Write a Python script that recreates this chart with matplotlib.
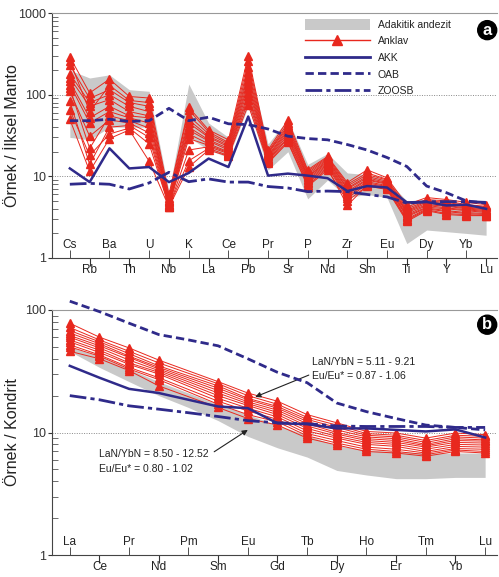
import matplotlib
matplotlib.use("Agg")
import matplotlib.pyplot as plt
import numpy as np
from matplotlib.ticker import FixedLocator, FuncFormatter, NullFormatter, LogLocator
from matplotlib.patches import Patch
from matplotlib.lines import Line2D

plt.rcParams['font.family'] = ['Liberation Sans', 'DejaVu Sans']

# ---------- panel a: primitive mantle normalised ----------
pm_elements = ['Cs', 'Rb', 'Ba', 'Th', 'U', 'Nb', 'K', 'La', 'Ce', 'Pb', 'Pr',
               'Sr', 'P', 'Nd', 'Zr', 'Sm', 'Eu', 'Ti', 'Dy', 'Y', 'Yb', 'Lu']

pm_band_upper = [200, 160, 175, 115, 110, 6.5, 135, 45, 30, 250, 25,
                 50, 14, 19, 11, 10.5, 9, 5, 5.2, 5, 4.5, 4.2]
pm_band_lower = [30, 28, 40, 40, 40, 4.5, 30, 21, 17, 72, 12,
                 20, 5.3, 9, 5.5, 6, 5.5, 1.5, 2.2, 2.1, 2.0, 1.9]

pm_anklav = [
    [290, 105, 155, 95, 91, 6.0, 70, 37, 28, 300, 21, 49, 12, 17.5, 8.4, 12, 9.6, 4.5, 5.5, 5.2, 4.8, 4.5],
    [260, 62, 130, 85, 80, 5.5, 65, 35, 26, 260, 20, 45, 11.5, 17, 8.0, 11, 9.2, 4.2, 5.2, 5.0, 4.5, 4.3],
    [230, 90, 115, 80, 72, 5.2, 55, 33, 25, 220, 19.5, 42, 11, 16.5, 7.6, 10.5, 9.0, 4.0, 5.0, 4.8, 4.4, 4.2],
    [180, 80, 100, 72, 62, 5.0, 49, 31, 24, 190, 19, 40, 10.5, 16, 7.2, 10, 8.7, 3.8, 4.9, 4.6, 4.2, 4.0],
    [160, 72, 87, 62, 55, 4.8, 45, 30, 23, 170, 18, 38, 10, 15.5, 7.0, 9.6, 8.4, 3.7, 4.7, 4.4, 4.1, 3.9],
    [145, 52, 72, 55, 52, 4.6, 40, 28, 22, 150, 17.5, 36, 9.8, 15, 6.6, 9.2, 8.2, 3.6, 4.5, 4.3, 4.0, 3.8],
    [133, 45, 62, 52, 45, 4.5, 37, 27, 21, 135, 17, 34, 9.4, 14.5, 6.3, 9.0, 8.0, 3.4, 4.4, 4.1, 3.9, 3.7],
    [120, 22, 55, 48, 39, 4.4, 33, 25, 20, 120, 16.5, 32, 9.0, 14, 6.0, 8.6, 7.7, 3.3, 4.2, 4.0, 3.8, 3.6],
    [110, 31, 49, 45, 34, 4.3, 29, 24, 19.5, 105, 16, 30, 8.6, 13.5, 5.7, 8.3, 7.5, 3.2, 4.1, 3.8, 3.6, 3.5],
    [83, 14, 40, 42, 30, 4.2, 21, 23, 19, 95, 15.5, 29, 8.2, 13, 5.4, 8.0, 7.3, 3.0, 4.0, 3.7, 3.5, 3.4],
    [65, 18, 33, 39, 25, 4.3, 15.5, 22, 18, 85, 15, 27, 7.8, 12.5, 4.4, 7.8, 7.1, 2.9, 3.9, 3.5, 3.4, 3.3],
    [50, 11.5, 29, 37, 15.3, 4.2, 13, 21, 17.6, 75, 14.5, 26, 7.5, 12, 5.0, 7.6, 6.9, 2.8, 3.8, 3.4, 3.3, 3.3],
]

pm_akk = [12.5, 8.5, 22, 12.5, 13, 8.5, 11, 16.5, 13, 54, 10.2, 10.8, 10.2, 9.5,
          6.6, 7.6, 7.3, 4.8, 4.85, 4.4, 4.5, 4.0]
pm_oab = [48, 48, 50, 47, 48, 68, 48, 53, 44, 43, 38, 31, 29, 28,
          24.5, 21, 17, 13.2, 7.6, 6.3, 5.0, 4.7]
pm_zoosb = [8.0, 8.2, 8.0, 7.0, 8.3, 11.2, 8.6, 9.3, 8.5, 8.5, 7.5, 7.2, 6.5, 6.6,
            6.5, 6.0, 5.6, 4.7, 4.9, 4.9, 4.9, 4.8]

# ---------- panel b: chondrite normalised ----------
ree_elements = ['La', 'Ce', 'Pr', 'Nd', 'Pm', 'Sm', 'Eu', 'Gd', 'Tb', 'Dy',
                'Ho', 'Er', 'Tm', 'Yb', 'Lu']
ree_measured = ['La', 'Ce', 'Pr', 'Nd', 'Sm', 'Eu', 'Gd', 'Tb', 'Dy',
                'Ho', 'Er', 'Tm', 'Yb', 'Lu']

ree_band_upper = [50, 42, 33, 26, 21, 17, 14, 11.5, 9.5, 7.8, 7.2, 7.0, 6.8, 6.8, 6.8]
ree_band_lower = [46, 34, 26, 20, 16, 12.5, 9.3, 7.5, 6.3, 4.9, 4.5, 4.2, 4.2, 4.3, 4.3]

ree_anklav = [
    [78, 60, 49, 39, 26, 21, 18, 14, 12, 10.2, 9.9, 9.0, 9.9, 9.6],
    [72, 57, 46, 37, 25, 20, 17, 13.3, 11.5, 9.8, 9.5, 8.6, 9.5, 9.3],
    [68, 55, 44, 35, 24, 19, 16.3, 12.8, 11, 9.5, 9.2, 8.3, 9.2, 9.0],
    [65, 53, 42, 34, 23, 18.5, 15.8, 12.3, 10.5, 9.2, 8.9, 8.0, 8.9, 8.7],
    [62, 51, 41, 33, 22, 17.8, 15.2, 11.8, 10, 8.9, 8.6, 7.8, 8.6, 8.5],
    [60, 49, 39, 32, 21, 17.2, 14.6, 11.3, 9.7, 8.6, 8.3, 7.6, 8.3, 8.2],
    [57, 47, 37, 31, 20, 16.6, 14, 10.8, 9.3, 8.3, 8.0, 7.3, 8.0, 7.9],
    [55, 45, 36, 30, 19, 15.8, 13.4, 10.3, 9.0, 8.0, 7.7, 7.0, 7.7, 7.6],
    [52, 43, 34, 28, 18, 15, 12.8, 9.8, 8.6, 7.6, 7.3, 6.8, 7.4, 7.3],
    [50, 42, 33, 27, 17, 14, 12.2, 9.4, 8.2, 7.3, 7.0, 6.6, 7.2, 7.0],
    [46, 40, 32, 24, 16, 13, 11.5, 9.0, 7.9, 7.0, 6.8, 6.4, 7.0, 6.8],
]

ree_akk = [35, 28, 22.7, 21, 18.5, 16.3, 15.8, 11.9, 11.7, 10.8, 10.8, 10.5, 10.2, 10.6, 9.1]
ree_oab = [118, 97, 78, 63, 57, 51, 40, 31, 25.5, 17.4, 14.8, 13, 11.5, 11, 10.5]
ree_zoosb = [20, 18.5, 16.5, 15.5, 14.5, 13.5, 12.5, 12, 11.8, 11.3, 11.2, 11.2, 11.2, 11, 11]

red = '#e8281e'
blue = '#2f2a8a'
grey = '#c9c9c9'


def style_axis(ax, labels, ymax, ylabel):
    n = len(labels)
    x = np.arange(n)
    ax.set_yscale('log')
    ax.set_ylim(1, ymax)
    ax.set_xlim(-0.9 if n > 20 else -0.6, n - 1 + (0.55 if n > 20 else 0.4))
    ax.yaxis.set_major_locator(FixedLocator([v for v in [1, 10, 100, 1000] if v <= ymax]))
    ax.yaxis.set_major_formatter(FuncFormatter(lambda v, p: '%g' % v))
    ax.yaxis.set_minor_locator(LogLocator(base=10, subs=np.arange(2, 10)))
    ax.yaxis.set_minor_formatter(NullFormatter())
    ax.tick_params(axis='y', which='major', direction='out', length=3, pad=1,
                   labelsize=9, colors='#333')
    ax.tick_params(axis='y', which='minor', direction='in', length=4, colors='#555')
    ax.set_xticks(x[1::2])
    ax.set_xticklabels([])
    ax.set_xticks(x[0::2], minor=True)
    ax.tick_params(axis='x', which='major', direction='out', length=6, colors='#333')
    ax.tick_params(axis='x', which='minor', direction='in', length=6, colors='#333')
    trans = ax.get_xaxis_transform()
    for i, lab in enumerate(labels):
        if i % 2 == 0:
            ax.text(i, 0.053, lab, transform=trans, ha='center', va='center', fontsize=8.5, color='#222')
        else:
            ax.text(i, -0.05, lab, transform=trans, ha='center', va='center', fontsize=8.5, color='#222')
    for v in [10, 100]:
        if v < ymax:
            ax.axhline(v, color='#888', lw=0.7, ls=(0, (1, 1.5)), zorder=0)
    ax.spines['right'].set_visible(False)
    ax.spines['top'].set_color('#999')
    ax.spines['left'].set_color('#444')
    ax.spines['bottom'].set_color('#444')
    ax.set_ylabel(ylabel, fontsize=11.5, color='#222')
    ax.yaxis.set_label_coords(-0.073, 0.5)


fig = plt.figure(figsize=(4.99, 5.77), dpi=100)
ax1 = fig.add_axes([52 / 499, 1 - 258 / 577, 445 / 499, 245 / 577])
ax2 = fig.add_axes([52 / 499, 1 - 555 / 577, 445 / 499, 245 / 577])

# panel a
xa = np.arange(len(pm_elements))
ax1.fill_between(xa, pm_band_lower, pm_band_upper, color=grey, lw=0, zorder=1)
for s in pm_anklav:
    ax1.plot(xa, s, color=red, lw=0.7, marker='^', ms=5.5, mec=red, zorder=3)
ax1.plot(xa, pm_oab, color=blue, lw=2, ls=(0, (3, 1.5)), zorder=4)
ax1.plot(xa, pm_zoosb, color=blue, lw=2, ls=(0, (6, 1.5, 1.5, 1.5)), zorder=4)
ax1.plot(xa, pm_akk, color=blue, lw=1.8, zorder=5)
style_axis(ax1, pm_elements, 1000, 'Örnek / İlksel Manto')

handles = [Patch(facecolor=grey, edgecolor='none'),
           Line2D([], [], color=red, lw=1, marker='^', ms=7),
           Line2D([], [], color=blue, lw=2),
           Line2D([], [], color=blue, lw=2, ls=(0, (3, 1.5))),
           Line2D([], [], color=blue, lw=2, ls=(0, (6, 1.5, 1.5, 1.5)))]
names = ['Adakitik andezit', 'Anklav', 'AKK', 'OAB', 'ZOOSB']
fig.legend(handles, names, loc='upper left', bbox_to_anchor=(305 / 499, 1 - 19 / 577),
           frameon=False, fontsize=7.5, handlelength=6.2, handleheight=1.2,
           handletextpad=0.8, labelspacing=0.55, borderpad=0, borderaxespad=0,
           numpoints=1, labelcolor='#222')

ax1.text(0.978, 0.93, 'a', transform=ax1.transAxes, ha='center', va='center',
         fontsize=12, fontweight='bold', color='white',
         bbox=dict(boxstyle='circle,pad=0.12', fc='black', ec='black'))

# panel b
xb = np.arange(len(ree_elements))
xm = [ree_elements.index(e) for e in ree_measured]
ax2.fill_between(xb, ree_band_lower, ree_band_upper, color=grey, lw=0, zorder=1)
for s in ree_anklav:
    ax2.plot(xm, s, color=red, lw=0.7, marker='^', ms=5.5, mec=red, zorder=3)
ax2.plot(xb, ree_oab, color=blue, lw=2, ls=(0, (3, 1.5)), zorder=4, clip_on=False)
ax2.plot(xb, ree_zoosb, color=blue, lw=2, ls=(0, (6, 1.5, 1.5, 1.5)), zorder=4)
ax2.plot(xb, ree_akk, color=blue, lw=1.8, zorder=5)
style_axis(ax2, ree_elements, 100, 'Örnek / Kondrit')

ax2.annotate('LaN/YbN = 5.11 - 9.21\nEu/Eu* = 0.87 - 1.06', xy=(6.25, 19.5), xytext=(8.15, 33),
             fontsize=7.5, color='#222', va='center', ha='left', linespacing=1.6,
             arrowprops=dict(arrowstyle='-|>', color='#222', lw=0.8, mutation_scale=8,
                             relpos=(0, 0.3), shrinkA=0, shrinkB=0))
ax2.annotate('LaN/YbN = 8.50 - 12.52\nEu/Eu* = 0.80 - 1.02', xy=(6.0, 10.5), xytext=(1.0, 5.8),
             fontsize=7.5, color='#222', va='center', ha='left', linespacing=1.7,
             arrowprops=dict(arrowstyle='-|>', color='#222', lw=0.8, mutation_scale=8,
                             relpos=(1.0, 0.75), shrinkA=2, shrinkB=0))

ax2.text(0.978, 0.94, 'b', transform=ax2.transAxes, ha='center', va='center',
         fontsize=12, fontweight='bold', color='white',
         bbox=dict(boxstyle='circle,pad=0.12', fc='black', ec='black'))

fig.savefig('out.png', dpi=100)
